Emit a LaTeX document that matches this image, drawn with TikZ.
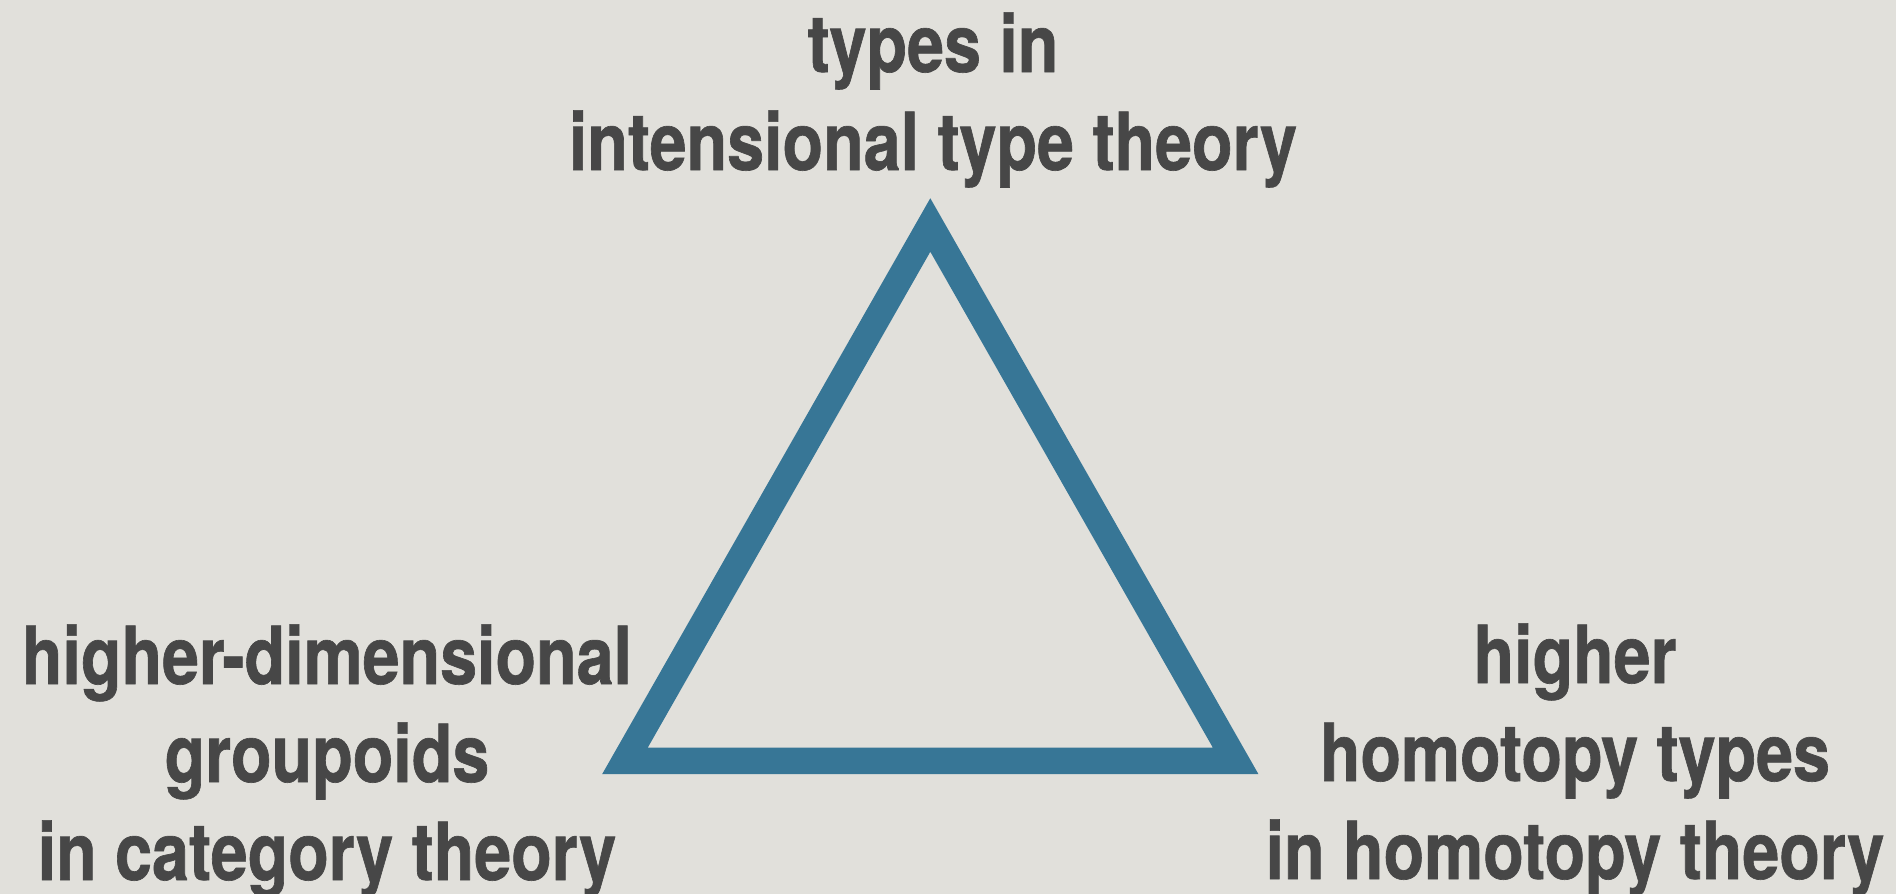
\documentclass[tikz,border=0pt]{standalone}
\usepackage{fontspec}
\newfontfamily\labelfont{TeX Gyre Heros}[FakeStretch=0.83, FakeBold=0.8]
\definecolor{paper}{HTML}{E1E0DB}
\definecolor{ink}{HTML}{474747}
\definecolor{steel}{HTML}{377696}

\begin{document}
\begin{tikzpicture}[x=1pt, y=-1pt,
  lbl/.style={ink, font=\labelfont\bfseries\fontsize{80pt}{98pt}\selectfont, align=center, inner sep=0pt, anchor=base},
  tri/.style={draw=steel, line width=26.5pt, line join=miter}
]
  \useasboundingbox (0,0) rectangle (1896,894);
  \fill[paper] (0,0) rectangle (1896,894);

  \coordinate (apex) at (930.3,225);
  \coordinate (bl) at (625,760.8);
  \coordinate (br) at (1235.6,760.8);
  \draw[tri] (apex) -- (bl) -- (br) -- cycle;

  \node[lbl] (itt) at (933,170) {types in\\intensional type theory};
  \node[lbl] (grpd) at (327,880) {higher-dimensional\\groupoids\\in category theory};
  \node[lbl] (htpy) at (1575,879) {higher\\homotopy types\\in homotopy theory};
\end{tikzpicture}
\end{document}
